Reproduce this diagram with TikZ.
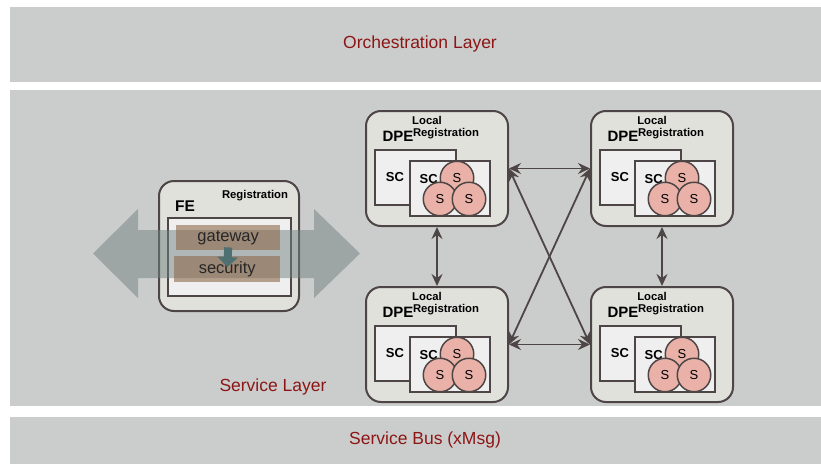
\documentclass[tikz,border=0pt]{standalone}
\usepackage{fontspec}
\setmainfont{Liberation Sans}
\usetikzlibrary{arrows.meta, positioning, shapes}

\definecolor{layergray}{RGB}{203,205,204}
\definecolor{layertext}{RGB}{140,22,22}
\definecolor{boxfill}{RGB}{224,225,219}
\definecolor{boxline}{RGB}{78,70,70}
\definecolor{scfill}{RGB}{239,239,239}
\definecolor{svcfill}{RGB}{233,177,167}
\definecolor{flowgray}{RGB}{112,128,128}
\definecolor{gwbrown}{RGB}{142,106,76}
\definecolor{gwarrow}{RGB}{78,112,112}

\newcommand{\fsz}[1]{\fontsize{#1}{#1}\selectfont}

\begin{document}
\begin{tikzpicture}[x=1pt, y=-1pt,
  layerbox/.style={rectangle, fill=layergray, inner sep=0pt, anchor=north west},
  layerlabel/.style={text=layertext, font=\fsz{17.5}},
  dpebox/.style={rectangle, rounded corners=15pt, draw=boxline, fill=boxfill, line width=2pt, minimum width=142pt, minimum height=115pt, anchor=north west},
  scbox/.style={rectangle, draw=boxline, fill=scfill, line width=1.5pt, inner sep=0pt, anchor=north west},
  sctext/.style={font=\bfseries\fsz{13}, inner sep=0pt},
  regtext/.style={font=\bfseries\fsz{11.3}, inner sep=0pt},
  svcnode/.style={circle, draw=boxline, fill=svcfill, line width=1.5pt, minimum size=33.5pt, inner sep=0pt, font=\fsz{13}},
  gwbox/.style={rectangle, fill=gwbrown, fill opacity=0.6, text opacity=1, text=black!85, inner sep=0pt, anchor=north west, font=\fsz{16.5}},
  gwflow/.style={draw=gwarrow, line width=8pt, -{Triangle[length=10pt, width=20pt]}},
  link/.style={{Stealth[length=12pt, width=11pt, inset=4pt]}-{Stealth[length=12pt, width=11pt, inset=4pt]}, draw=boxline, line width=1.8pt}]

\useasboundingbox (0,0) rectangle (821,463);

% layers
\node (orch) [layerbox, minimum width=811pt, minimum height=75pt] at (10,7) {};
\node (svc) [layerbox, minimum width=811pt, minimum height=316pt] at (10,90) {};
\node (bus) [layerbox, minimum width=811pt, minimum height=47pt] at (10,417) {};
\node (orchlabel) [layerlabel] at (420,44) {Orchestration Layer};
\node (svclabel) [layerlabel] at (273,387) {Service Layer};
\node (buslabel) [layerlabel] at (425,440) {Service Bus (xMsg)};

% front end
\node (fe) [dpebox, minimum width=140pt, minimum height=130pt] at (158,180) {};
\node (fereg) [regtext] at (255,196) {Registration};
\node (fename) [font=\bfseries\fsz{15.5}] at (185,206) {FE};
\node (feinner) [scbox, minimum width=123pt, minimum height=78pt] at (167,217) {};
\fill [flowgray, fill opacity=0.5] (93,253.5) -- (138,209) -- (138,230) -- (314,230) -- (314,209) -- (360,253.5)
  -- (314,298) -- (314,278) -- (138,278) -- (138,298) -- cycle;
\node (gw) [gwbox, minimum width=104pt, minimum height=25pt] at (176,225) {gateway};
\node (sec) [gwbox, minimum width=106pt, minimum height=26pt] at (174,256) {security};
\draw [gwflow] ([yshift=3pt]gw.south) -- ([yshift=-11pt]sec.north);

% processing environments
\foreach \n/\x/\y in {A/365/110, B/590/110, C/365/286, D/590/286} {
  \node (dpe\n) [dpebox] at (\x,\y) {};
  \node (loc\n) [regtext] at (\x+62,\y+10.5) {Local};
  \node (reg\n) [regtext] at (\x+81,\y+23.7) {Registration};
  \node (name\n) [font=\bfseries\fsz{15}, inner sep=0pt] at (\x+33,\y+26) {DPE};
  \node (sc\n a) [scbox, minimum width=81pt, minimum height=55pt] at (\x+9,\y+39) {};
  \node (sct\n a) [sctext] at (\x+30,\y+66.7) {SC};
  \node (sc\n b) [scbox, minimum width=80pt, minimum height=55pt] at (\x+44,\y+50) {};
  \node (sct\n b) [sctext] at (\x+63.7,\y+69) {SC};
  \node (s\n 1) [svcnode] at (\x+92,\y+68) {S};
  \node (s\n 2) [svcnode] at (\x+75,\y+89) {S};
  \node (s\n 3) [svcnode] at (\x+104,\y+89) {S};
}

\draw [link] (dpeA.east) -- (dpeB.west);
\draw [link] (dpeC.east) -- (dpeD.west);
\draw [link] (dpeA.east) -- (dpeD.west);
\draw [link] (dpeB.west) -- (dpeC.east);
\draw [link] (dpeA.south) -- (dpeC.north);
\draw [link] (dpeB.south) -- (dpeD.north);

\end{tikzpicture}
\end{document}
